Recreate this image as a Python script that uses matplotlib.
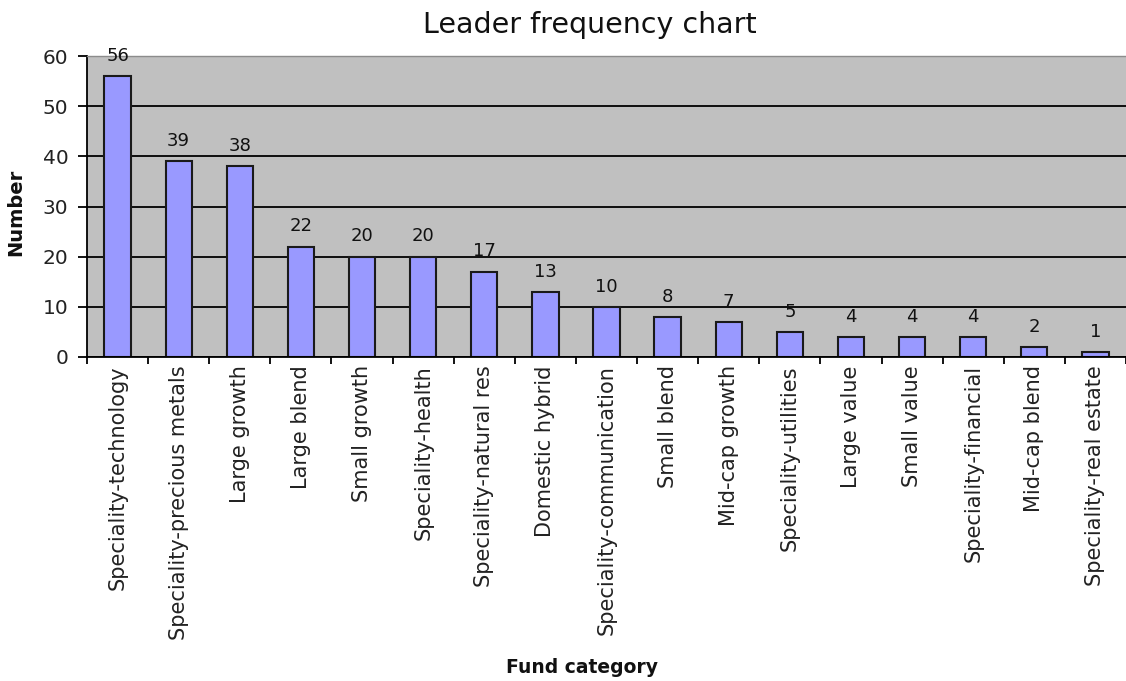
import matplotlib
matplotlib.use("Agg")
import matplotlib.pyplot as plt
import numpy as np

categories = ["Speciality-technology", "Speciality-precious metals", "Large growth",
              "Large blend", "Small growth", "Speciality-health", "Speciality-natural res",
              "Domestic hybrid", "Speciality-communication", "Small blend", "Mid-cap growth",
              "Speciality-utilities", "Large value", "Small value", "Speciality-financial",
              "Mid-cap blend", "Speciality-real estate"]
values = [56, 39, 38, 22, 20, 20, 17, 13, 10, 8, 7, 5, 4, 4, 4, 2, 1]
yticks = [0, 10, 20, 30, 40, 50, 60]

fig = plt.figure(figsize=(11.26, 6.81), dpi=100)
ax = fig.add_axes([87/1126, 1 - 357/681, (1126 - 87)/1126, (357 - 56)/681])
ax.set_facecolor("#C0C0C0")
x = np.arange(len(categories))
ax.set_axisbelow(True)
ax.yaxis.grid(True, color="black", linewidth=1.3)
ax.bar(x, values, width=0.43, color="#9999FF", edgecolor="#1a1a1a", linewidth=1.5)
for xi, v in zip(x, values):
    ax.annotate(str(v), (xi, v), xytext=(0, 11), textcoords="offset points",
                ha="center", va="baseline", fontsize=13, color="#111111",
                annotation_clip=False)

ax.set_xlim(-0.5, len(categories) - 0.5)
ax.set_ylim(0, 60)
ax.set_yticks(yticks)
ax.set_yticklabels([str(t) for t in yticks], fontsize=14.5, color="#222222")
ax.set_xticks(x)
ax.set_xticklabels(categories, rotation=90, fontsize=15, color="#222222")
ax.tick_params(axis="x", which="major", length=0, pad=6)
ax.set_xticks(np.arange(len(categories) + 1) - 0.5, minor=True)
ax.tick_params(axis="x", which="minor", length=5, width=1.3, color="black")
ax.tick_params(axis="y", length=6.5, width=1.3, color="black", pad=7)
ax.spines["right"].set_visible(False)
ax.spines["top"].set_color("#8c8c8c")
ax.spines["top"].set_linewidth(1.0)
for s in ["left", "bottom"]:
    ax.spines[s].set_color("black")
    ax.spines[s].set_linewidth(1.3)

fig.text(590/1126, 1 - 33/681, "Leader frequency chart", ha="center", va="baseline",
         fontsize=20.5, color="#111111")
fig.text(16/1126, 1 - 212/681, "Number", rotation=90, ha="center", va="center",
         fontsize=14, fontweight="bold", color="#111111")
fig.text(582/1126, 1 - 673/681, "Fund category", ha="center", va="baseline",
         fontsize=13.5, fontweight="bold", color="#111111")

fig.savefig("out.png", dpi=100)
